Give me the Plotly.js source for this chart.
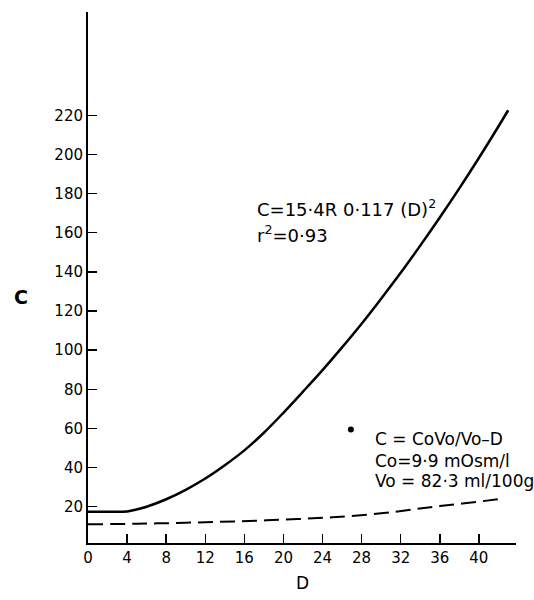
<!DOCTYPE html>
<html>
<head>
<meta charset="utf-8">
<script src="https://cdn.plot.ly/plotly-3.0.1.min.js"></script>
<style>html,body{margin:0;padding:0;background:#fff;}#chart{width:534px;height:600px;}</style>
</head>
<body>
<div id="chart"></div>
<script>
// Solid curve: C = 15.4R 0.117 (D)^2
const fitD = [0, 2, 4, 6, 8, 10, 12, 14, 16, 18, 20, 22, 24, 26, 28, 30, 32, 34, 36, 38, 40, 42, 43];
const fitC = [17.4, 17.4, 17.6, 20.0, 23.8, 28.6, 34.4, 41.2, 48.8, 57.8, 68.0, 78.8, 89.8, 101.4, 113.5, 126.3, 139.5, 153.4, 167.8, 182.7, 198.2, 214.3, 222.6];
// Dashed curve: C = CoVo/(Vo-D)
const theoD = [0, 5, 10, 15, 20, 25, 30, 33.4, 36, 39, 42.1];
const theoC = [11.0, 11.3, 11.8, 12.5, 13.4, 14.6, 16.6, 18.7, 20.3, 22.0, 23.9];
// single point
const ptD = [26.9];
const ptC = [59.5];
const xTicks = [0, 4, 8, 12, 16, 20, 24, 28, 32, 36, 40];
const yTicks = [20, 40, 60, 80, 100, 120, 140, 160, 180, 200, 220];

const font = "DejaVu Sans, sans-serif";
const traces = [
  {x: fitD, y: fitC, mode: 'lines', line: {color: '#000', width: 2.5, shape: 'spline', smoothing: 1}, hoverinfo: 'skip'},
  {x: theoD, y: theoC, mode: 'lines', line: {color: '#000', width: 2, dash: '15px,7px', shape: 'spline'}, hoverinfo: 'skip'},
  {x: ptD, y: ptC, mode: 'markers', marker: {color: '#000', size: 6}, hoverinfo: 'skip'}
];
const layout = {
  width: 534, height: 600,
  margin: {l: 88, r: 18, t: 12, b: 57},
  paper_bgcolor: '#fff', plot_bgcolor: '#fff',
  showlegend: false,
  font: {family: font, color: '#000', size: 15},
  xaxis: {
    range: [0, 43.8], tickvals: xTicks, ticktext: xTicks.map(String),
    ticks: 'inside', ticklen: 9, tickwidth: 1.5, tickcolor: '#000',
    showline: true, linecolor: '#000', linewidth: 2,
    showgrid: false, zeroline: false,
    tickfont: {family: font, size: 15, color: '#000'}
  },
  yaxis: {
    range: [1.45, 272.8], tickvals: yTicks, ticktext: yTicks.map(String),
    ticks: 'inside', ticklen: 9, tickwidth: 1.5, tickcolor: '#000',
    showline: true, linecolor: '#000', linewidth: 2,
    showgrid: false, zeroline: false,
    tickfont: {family: font, size: 15, color: '#000'}
  },
  annotations: [
    {x: -0.1565, y: 0.463, xref: 'paper', yref: 'paper', xanchor: 'center', yanchor: 'middle', showarrow: false,
     text: '<b>C</b>', font: {family: font, size: 19, color: '#000'}},
    {x: 0.502, y: -0.0753, xref: 'paper', yref: 'paper', xanchor: 'center', yanchor: 'middle', showarrow: false,
     text: 'D', font: {family: font, size: 17, color: '#000'}},
    {x: 17.1, y: 172.5, xref: 'x', yref: 'y', xanchor: 'left', yanchor: 'middle', showarrow: false,
     text: 'C=15·4R 0·117 (D)<sup>2</sup>', font: {family: font, size: 18, color: '#000'}},
    {x: 17.1, y: 159.2, xref: 'x', yref: 'y', xanchor: 'left', yanchor: 'middle', showarrow: false,
     text: 'r<sup>2</sup>=0·93', font: {family: font, size: 18, color: '#000'}},
    {x: 29.2, y: 54.5, xref: 'x', yref: 'y', xanchor: 'left', yanchor: 'middle', showarrow: false,
     text: 'C = CoVo/Vo–D', font: {family: font, size: 17, color: '#000'}},
    {x: 29.2, y: 43.3, xref: 'x', yref: 'y', xanchor: 'left', yanchor: 'middle', showarrow: false,
     text: 'Co=9·9 mOsm/l', font: {family: font, size: 17, color: '#000'}},
    {x: 29.2, y: 33.1, xref: 'x', yref: 'y', xanchor: 'left', yanchor: 'middle', showarrow: false,
     text: 'Vo = 82·3 ml/100g', font: {family: font, size: 17, color: '#000'}}
  ]
};
Plotly.newPlot('chart', traces, layout, {displayModeBar: false, staticPlot: true});
</script>
</body>
</html>
